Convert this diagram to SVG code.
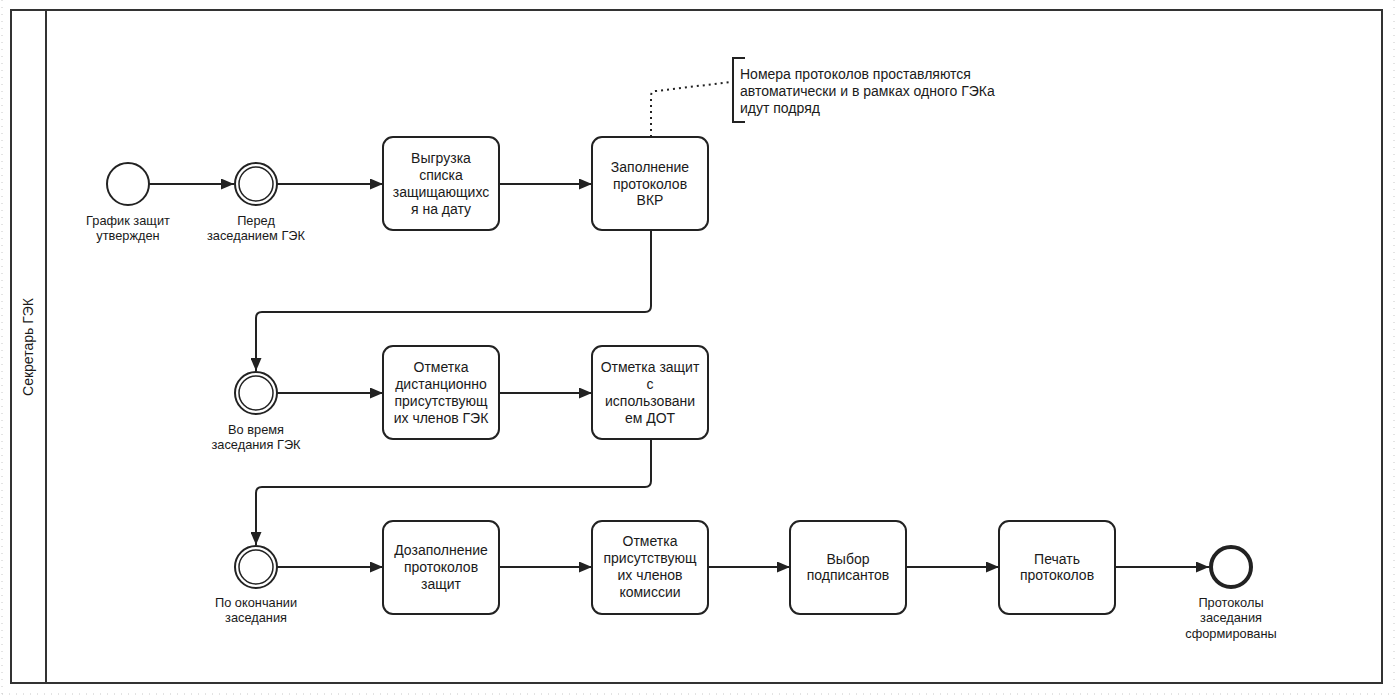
<svg xmlns="http://www.w3.org/2000/svg" width="1398" height="698" viewBox="0 0 1398 698">
  <style>
    .t { font-family: "Liberation Sans", Arial, sans-serif; font-size: 14px; fill: #1a1a1a; text-anchor: middle; }
    .l { font-family: "Liberation Sans", Arial, sans-serif; font-size: 12.8px; fill: #1a1a1a; text-anchor: middle; }
    .task { fill: #ffffff; stroke: #222; stroke-width: 2; }
    .ev { fill: #ffffff; stroke: #222; stroke-width: 2; }
    .evi { fill: none; stroke: #222; stroke-width: 1.5; }
    .flow { fill: none; stroke: #222; stroke-width: 2; marker-end: url(#arr); }
  </style>
  <defs>
    <marker id="arr" markerWidth="13" markerHeight="11" refX="13" refY="5.5" orient="auto" markerUnits="userSpaceOnUse">
      <path d="M0,0 L13,5.5 L0,11 Z" fill="#222"/>
    </marker>
  </defs>
  <rect x="0" y="0" width="1398" height="698" fill="#ffffff"/>
  <g id="page-border" fill="none" stroke="#c8c8c8" stroke-width="1" stroke-dasharray="1,6">
    <line x1="2" y1="0" x2="2" y2="694"/>
    <line x1="2" y1="694" x2="1394" y2="694"/>
    <line x1="1394" y1="0" x2="1394" y2="694"/>
  </g>
  <g id="pool">
    <rect x="11" y="10" width="1371" height="673" fill="#ffffff" stroke="#333" stroke-width="2"/>
    <line x1="46" y1="10" x2="46" y2="683" stroke="#333" stroke-width="2"/>
    <text class="t" transform="translate(33,347) rotate(-90)">Секретарь ГЭК</text>
  </g>
  <g id="connectors">
    <line class="flow" x1="149" y1="184" x2="234" y2="184"/>
    <line class="flow" x1="277" y1="184" x2="383" y2="184"/>
    <line class="flow" x1="499" y1="184" x2="592" y2="184"/>
    <path class="flow" d="M651,230 L651,306 Q651,312 645,312 L262,312 Q256,312 256,318 L256,371"/>
    <line class="flow" x1="277" y1="393" x2="383" y2="393"/>
    <line class="flow" x1="499" y1="393" x2="592" y2="393"/>
    <path class="flow" d="M651,439 L651,481 Q651,487 645,487 L262,487 Q256,487 256,493 L256,545"/>
    <line class="flow" x1="277" y1="567" x2="383" y2="567"/>
    <line class="flow" x1="499" y1="567" x2="592" y2="567"/>
    <line class="flow" x1="708" y1="567" x2="790" y2="567"/>
    <line class="flow" x1="906" y1="567" x2="999" y2="567"/>
    <line class="flow" x1="1115" y1="567" x2="1209" y2="567"/>
    <path d="M651,137 L651,96 Q651,91 656,91 L731,82" fill="none" stroke="#222" stroke-width="2" stroke-dasharray="2,4"/>
  </g>
  <g id="start">
    <circle class="ev" cx="128" cy="184" r="21"/>
    <text class="l" x="128" y="225">График защит</text>
    <text class="l" x="128" y="240">утвержден</text>
  </g>
  <g id="ev-before">
    <circle class="ev" cx="256" cy="184" r="21"/>
    <circle class="evi" cx="256" cy="184" r="17"/>
    <text class="l" x="256" y="225">Перед</text>
    <text class="l" x="256" y="240">заседанием ГЭК</text>
  </g>
  <g id="task-export">
    <rect class="task" x="383" y="137" width="116" height="93" rx="10"/>
    <text class="t" x="441" y="163">Выгрузка</text>
    <text class="t" x="441" y="180">списка</text>
    <text class="t" x="441" y="197">защищающихс</text>
    <text class="t" x="441" y="214">я на дату</text>
  </g>
  <g id="task-fill">
    <rect class="task" x="592" y="137" width="116" height="93" rx="10"/>
    <text class="t" x="650" y="172">Заполнение</text>
    <text class="t" x="650" y="189">протоколов</text>
    <text class="t" x="650" y="205">ВКР</text>
  </g>
  <g id="annotation">
    <path d="M745,58 L733,58 L733,122 L745,122" fill="none" stroke="#222" stroke-width="2"/>
    <text class="t" x="740" y="79" style="text-anchor:start">Номера протоколов проставляются</text>
    <text class="t" x="740" y="96" style="text-anchor:start">автоматически и в рамках одного ГЭКа</text>
    <text class="t" x="740" y="113" style="text-anchor:start">идут подряд</text>
  </g>
  <g id="ev-during">
    <circle class="ev" cx="256" cy="393" r="21"/>
    <circle class="evi" cx="256" cy="393" r="17"/>
    <text class="l" x="256" y="434">Во время</text>
    <text class="l" x="256" y="449">заседания ГЭК</text>
  </g>
  <g id="task-remote">
    <rect class="task" x="383" y="346" width="116" height="93" rx="10"/>
    <text class="t" x="441" y="372">Отметка</text>
    <text class="t" x="441" y="389">дистанционно</text>
    <text class="t" x="441" y="406">присутствующ</text>
    <text class="t" x="441" y="423">их членов ГЭК</text>
  </g>
  <g id="task-dot">
    <rect class="task" x="592" y="346" width="116" height="93" rx="10"/>
    <text class="t" x="650" y="372">Отметка защит</text>
    <text class="t" x="650" y="389">с</text>
    <text class="t" x="650" y="406">использовани</text>
    <text class="t" x="650" y="423">ем ДОТ</text>
  </g>
  <g id="ev-after">
    <circle class="ev" cx="256" cy="567" r="21"/>
    <circle class="evi" cx="256" cy="567" r="17"/>
    <text class="l" x="256" y="607">По окончании</text>
    <text class="l" x="256" y="622">заседания</text>
  </g>
  <g id="task-refill">
    <rect class="task" x="383" y="521" width="116" height="93" rx="10"/>
    <text class="t" x="441" y="555">Дозаполнение</text>
    <text class="t" x="441" y="572">протоколов</text>
    <text class="t" x="441" y="589">защит</text>
  </g>
  <g id="task-present">
    <rect class="task" x="592" y="521" width="116" height="93" rx="10"/>
    <text class="t" x="650" y="546">Отметка</text>
    <text class="t" x="650" y="563">присутствующ</text>
    <text class="t" x="650" y="580">их членов</text>
    <text class="t" x="650" y="597">комиссии</text>
  </g>
  <g id="task-signers">
    <rect class="task" x="790" y="521" width="116" height="93" rx="10"/>
    <text class="t" x="848" y="564">Выбор</text>
    <text class="t" x="848" y="580">подписантов</text>
  </g>
  <g id="task-print">
    <rect class="task" x="999" y="521" width="116" height="93" rx="10"/>
    <text class="t" x="1057" y="564">Печать</text>
    <text class="t" x="1057" y="580">протоколов</text>
  </g>
  <g id="end">
    <circle cx="1231" cy="567" r="20" fill="#ffffff" stroke="#222" stroke-width="4"/>
    <text class="l" x="1231" y="607">Протоколы</text>
    <text class="l" x="1231" y="622">заседания</text>
    <text class="l" x="1231" y="638">сформированы</text>
  </g>
</svg>
